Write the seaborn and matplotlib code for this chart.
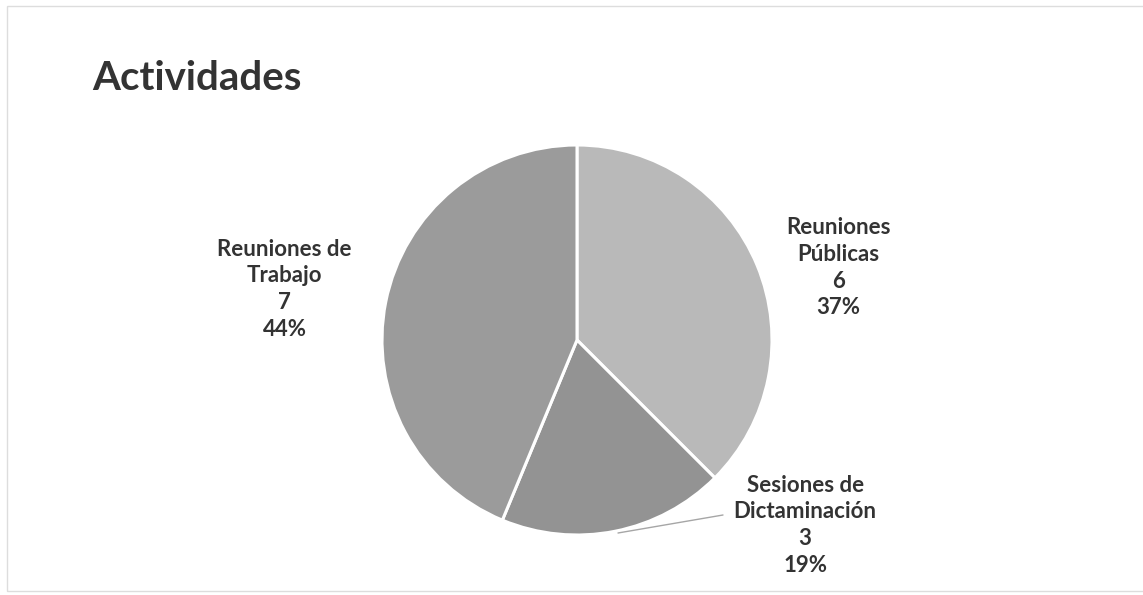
import numpy as np
import seaborn as sns
import matplotlib.pyplot as plt
from matplotlib.patches import Rectangle

# datos
categorias = ["Reuniones\nPúblicas", "Sesiones de\nDictaminación", "Reuniones de\nTrabajo"]
valores = [6, 3, 7]
porcentajes = ["37%", "19%", "44%"]
colores = ["#b9b9b9", "#939393", "#9b9b9b"]

sns.set_theme(style="white")
plt.rcParams['font.family'] = ['Lato', 'DejaVu Sans']

W, H = 1143, 595
cx, cy, r = 577, 340, 195  # centro del pastel en pixeles

fig = plt.figure(figsize=(W / 100, H / 100), dpi=100)
ax = fig.add_axes([0, 0, 1, 1])

wedges, _ = ax.pie(valores, colors=colores, startangle=90, counterclock=False,
                   radius=1, wedgeprops=dict(edgecolor="white", linewidth=2.2))

ax.set_xlim(-cx / r, (W - cx) / r)
ax.set_ylim((cy - H) / r, cy / r)
ax.set_aspect("auto")
ax.axis("off")

# posiciones de etiquetas (en unidades de radio)
pos = [(1.34, 0.37), (1.17, -0.95), (-1.50, 0.26)]
for cat, v, p, (x, y) in zip(categorias, valores, porcentajes, pos):
    ax.text(x, y, f"{cat}\n{v}\n{p}", ha="center", va="center",
            fontsize=16, fontweight="bold", color="#333333", linespacing=1.33)

# linea guia para Sesiones de Dictaminacion
ax.plot([(618 - cx) / r, (723 - cx) / r], [(cy - 533) / r, (cy - 515) / r],
        color="#a6a6a6", lw=1)

fig.text(92 / W, 1 - 78 / H, "Actividades", fontsize=29, fontweight="bold",
         color="#333333", ha="left", va="center")

fig.patches.append(Rectangle((7 / W, 4 / H), 1.2, 1 - 10 / H, transform=fig.transFigure,
                             fill=False, edgecolor="#dddddd", lw=1))

plt.savefig("out.png", dpi=100)
